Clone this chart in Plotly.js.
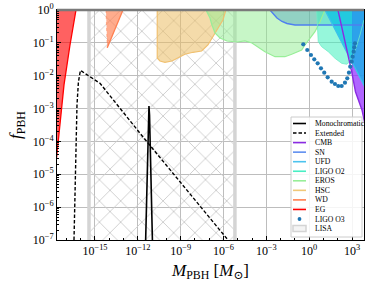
<!DOCTYPE html>
<html><head><meta charset="utf-8">
<script src="https://cdn.plot.ly/plotly-3.0.1.min.js"></script>
<style>html,body{margin:0;padding:0;background:#fff}#chart{width:374px;height:287px}</style>
</head><body><div id="chart"></div>
<script>
// values are log10 exponents (M in solar masses, f dimensionless)
const xTickExp = [-15, -12, -9, -6, -3, 0, 3];
const yTickExp = [0, -1, -2, -3, -4, -5, -6, -7];

const monoLogM = [-11.46, -11.39, -11.34, -11.29, -11.25, -11.22, -11.18, -11.13, -11.08, -11.03, -10.97];
const monoLogF = [-7.15, -6.09, -5.02, -3.96, -3.2, -2.92, -3.2, -3.96, -5.02, -6.09, -7.15];

const extLogM = [-16.47, -16.40, -16.34, -16.26, -16.16, -16.02, -15.91, -15.63, -15.35, -15.0, -14.65, -11.85, -8.35, -5.67, -5.4];
const extLogF = [-7.0, -5.48, -3.96, -2.89, -2.19, -1.84, -1.87, -1.95, -2.03, -2.13, -2.23, -3.75, -5.58, -7.0, -7.15];

const egLogM = [-16.33, -16.75, -17.17, -17.45, -17.63, -17.75];
const egLogF = [0, -1.065, -2.28, -3.50, -4.41, -4.75];

const wdLogM = [-14.23, -14.14, -13.04];
const wdLogF = [0, -1.147, 0];

const hscLogM = [-10.64, -10.64, -10.45, -10.10, -9.61, -9.19, -8.70, -8.14, -7.53, -7.09, -6.74, -6.39, -6.04, -5.83];
const hscLogF = [0, -1.461, -1.552, -1.592, -1.552, -1.452, -1.348, -1.287, -1.248, -1.065, -0.822, -0.548, -0.304, 0];

const erosLogM = [-7.227, -6.947, -6.807, -6.597, -6.246, -5.756, -5.056, -4.496, -4.006, -3.796, -3.095, -2.395, -1.695, -1.225, -0.763, -0.525, -0.294, 0.056, 0.406, 0.756, 1.106];
const erosLogF = [0, -0.243, -0.456, -0.700, -0.852, -0.943, -0.974, -0.943, -1.004, -1.065, -1.269, -1.421, -1.421, -1.348, -1.269, -1.217, -1.065, -0.861, -0.660, -0.365, 0];

const snLogM = [-2.745, -2.535, -2.255, -1.905, -1.555, -0.994, 3.9];
const snLogF = [0, -0.091, -0.243, -0.35, -0.411, -0.456, -0.456];

const o2LogM = [0.525, 0.637, 0.875, 1.338, 1.807, 2.276, 2.626, 2.857, 3.067, 3.277, 3.557, 3.837];
const o2LogF = [0, -0.965, -1.117, -1.269, -1.470, -1.622, -1.652, -1.573, -1.40, -1.156, -0.761, -0.304];

const ufdLogM = [1.106, 3.908, 4.3];
const ufdLogF = [0, -2.343, -2.68];

const cmbLogM = [2.017, 2.507, 2.976, 3.243, 3.699, 3.874];
const cmbLogF = [0, -0.913, -1.878, -2.487, -3.043, -3.408];
// CMB shaded part (from 10^3 Msun up)
const cmbFillLogM = [3.0, 3.0, 3.243, 3.699, 3.874, 4.3, 4.3];
const cmbFillLogF = [0, -1.93, -2.487, -3.043, -3.408, -3.6, 0];

const o3LogM = [-0.413, -0.133, 0.126, 0.357, 0.595, 0.826, 1.057, 1.296, 1.576, 1.807, 2.038, 2.276, 2.507, 2.668, 2.787, 2.878, 2.976, 3.046, 3.116, 3.158, 3.207];
const o3LogF = [-1.044, -1.217, -1.369, -1.500, -1.622, -1.774, -1.908, -2.048, -2.182, -2.252, -2.313, -2.313, -2.212, -2.079, -1.908, -1.726, -1.573, -1.421, -1.269, -1.135, -1.013];

const lisaLogM = [-15.42, -5.2];

const legendLabels = ['Monochromatic', 'Extended', 'CMB', 'SN', 'UFD', 'LIGO O2', 'EROS', 'HSC', 'WD', 'EG', 'LIGO O3', 'LISA'];
const legendColors = ['#000000', '#000000', '#8a2be2', '#5f8ff0', '#4cc3ee', '#48eec4', '#98ee98', '#f0c878', '#ff7f50', '#ff0000', '#1f77b4', '#d4d4d4'];

const P = a => a.map(v => Math.pow(10, v));
const poly = (mx, fy, cx, cy) => ({x: P(mx.concat(cx)), y: P(fy.concat(cy))});

const traces = [];
// LISA hatched band
traces.push({x: P([lisaLogM[0], lisaLogM[1], lisaLogM[1], lisaLogM[0], lisaLogM[0]]), y: P([-8, -8, 1, 1, -8]),
  mode: 'lines', fill: 'toself', line: {width: 0.01, color: 'rgba(0,0,0,0)'}, fillcolor: 'rgba(255,255,255,0)',
  fillpattern: {shape: 'x', size: 15, solidity: 0.12, fgcolor: '#cdcdcd', fgopacity: 1},
  hoverinfo: 'skip', showlegend: false});
traces.push({x: [P([lisaLogM[0]])[0], P([lisaLogM[0]])[0], null, P([lisaLogM[1]])[0], P([lisaLogM[1]])[0]],
  y: [1e-8, 10, null, 1e-8, 10], mode: 'lines', line: {color: '#d4d4d4', width: 3.5}, hoverinfo: 'skip', showlegend: false});

function fillTrace(p, color) {
  return {x: p.x, y: p.y, mode: 'lines', fill: 'toself', fillcolor: color, line: {width: 0}, hoverinfo: 'skip', showlegend: false};
}
traces.push(fillTrace(poly(egLogM, egLogF, [-18, -18], [-4.75, 0]), 'rgba(255,0,0,0.62)'));
traces.push(fillTrace(poly(wdLogM, wdLogF, [], []), 'rgba(255,127,80,0.65)'));
traces.push(fillTrace(poly(hscLogM, hscLogF, [], []), 'rgba(235,190,100,0.55)'));
traces.push(fillTrace(poly(erosLogM, erosLogF, [], []), 'rgba(144,238,144,0.5)'));
traces.push(fillTrace(poly(snLogM, snLogF, [3.9], [0]), 'rgba(60,150,190,0.38)'));
traces.push(fillTrace(poly(o2LogM, o2LogF, [3.9], [0]), 'rgba(64,240,190,0.55)'));
traces.push(fillTrace(poly(cmbFillLogM, cmbFillLogF, [], []), 'rgba(150,50,255,0.75)'));
traces.push(fillTrace(poly(ufdLogM, ufdLogF, [4.3], [0]), 'rgba(0,190,230,0.7)'));

function lineTrace(mx, fy, color, width, dash) {
  return {x: P(mx), y: P(fy), mode: 'lines', line: {color: color, width: width, dash: dash || 'solid'}, hoverinfo: 'skip', showlegend: false};
}
traces.push(lineTrace(egLogM, egLogF, '#ff0000', 1.3));
traces.push(lineTrace(wdLogM.slice(1), wdLogF.slice(1), '#ff7f50', 1.3));
traces.push(lineTrace(wdLogM.slice(0, 2), wdLogF.slice(0, 2), 'rgba(255,127,80,0.5)', 1, 'dot'));
traces.push(lineTrace(hscLogM, hscLogF, '#f0c070', 1.2));
traces.push(lineTrace(erosLogM, erosLogF, '#98ee98', 1.2));
traces.push(lineTrace(snLogM, snLogF, '#4f7ff0', 1.4));
traces.push(lineTrace(o2LogM, o2LogF, '#70ecc8', 0.8));
traces.push(lineTrace(ufdLogM, ufdLogF, '#3cc0ec', 1.3));
traces.push(lineTrace(cmbLogM, cmbLogF, '#8a2be2', 1.4));
traces.push(lineTrace(extLogM, extLogF, '#000000', 1.4, '3.5px,2px'));
traces.push(lineTrace(monoLogM, monoLogF, '#000000', 1.6));
traces.push({x: P(o3LogM), y: P(o3LogF), mode: 'markers', marker: {color: '#1f77b4', size: 4.2}, hoverinfo: 'skip', showlegend: false});

// manual legend (box, handles, labels), positions in paper units
const L = 57, T = 10, W = 307, H = 230;
const px = v => (v - L) / W, py = v => (T + H - v) / H;
const shapes = [
  {type: 'line', xref: 'paper', yref: 'paper', x0: 0, x1: 1, y0: 1, y1: 1, line: {color: '#7a7a7a', width: 2.5}},
  {type: 'rect', xref: 'paper', yref: 'paper', x0: px(291), x1: px(362), y0: py(237), y1: py(117), fillcolor: 'rgba(255,255,255,0.85)', line: {color: '#cccccc', width: 1}}
];
const annotations = [];
legendLabels.forEach((lab, i) => {
  const yy = 123.5 + 9.55 * i;
  if (lab === 'LIGO O3') {
    shapes.push({type: 'circle', xref: 'paper', yref: 'paper', x0: px(297.6), x1: px(301.4), y0: py(yy + 1.9), y1: py(yy - 1.9), fillcolor: legendColors[i], line: {width: 0}});
  } else if (lab === 'LISA') {
    shapes.push({type: 'rect', xref: 'paper', yref: 'paper', x0: px(293), x1: px(306), y0: py(yy + 3), y1: py(yy - 3), fillcolor: '#f4f4f4', line: {color: legendColors[i], width: 1.5}});
  } else {
    shapes.push({type: 'line', xref: 'paper', yref: 'paper', x0: px(293), x1: px(306), y0: py(yy), y1: py(yy),
      line: {color: legendColors[i], width: 1.6, dash: lab === 'Extended' ? '3.5px,2px' : 'solid'}});
  }
  annotations.push({xref: 'paper', yref: 'paper', x: px(312.5), y: py(yy), xanchor: 'left', yanchor: 'middle',
    text: lab, showarrow: false, font: {family: 'Liberation Serif, serif', size: 7.7, color: '#000'}});
});

const font = {family: 'Liberation Serif, DejaVu Serif, serif', color: '#000'};
const layout = {
  width: 374, height: 287,
  margin: {l: 57, r: 10, t: 10, b: 47},
  paper_bgcolor: '#fff', plot_bgcolor: '#fff',
  showlegend: false,
  font: font,
  xaxis: {type: 'log', range: [-17.66, 3.84], tickmode: 'array', tickvals: P(xTickExp),
    ticktext: xTickExp.map(e => '10<sup>' + (e < 0 ? '\u2212' + (-e) : e) + '</sup>'),
    ticks: 'inside', ticklen: 4, tickcolor: '#000', showgrid: true, gridcolor: '#bdbdbd', gridwidth: 1,
    showline: true, linecolor: '#000', linewidth: 1, mirror: true, zeroline: false,
    minor: {ticks: 'inside', ticklen: 2, tickcolor: '#000', dtick: 1, showgrid: false},
    tickfont: {family: font.family, size: 12, color: '#000'},
    title: {text: '<i>M</i><sub>PBH</sub> [<i>M</i><sub>\u2299</sub>]', font: {family: font.family, size: 17, color: '#000'}, standoff: 6},
    automargin: false},
  yaxis: {type: 'log', range: [-7, 0], tickmode: 'array', tickvals: P(yTickExp),
    ticktext: yTickExp.map(e => '10<sup>' + (e < 0 ? '\u2212' + (-e) : e) + '</sup>'),
    ticks: 'inside', ticklen: 4, tickcolor: '#000', showgrid: true, gridcolor: '#bdbdbd', gridwidth: 1,
    showline: true, linecolor: '#000', linewidth: 1, mirror: true, zeroline: false,
    minor: {ticks: 'inside', ticklen: 2, tickcolor: '#000', dtick: 'D1', showgrid: false},
    tickfont: {family: font.family, size: 12, color: '#000'},
    title: {text: '<i>f</i><sub>PBH</sub>', font: {family: font.family, size: 17, color: '#000'}, standoff: 6},
    automargin: false},
  shapes: shapes,
  annotations: annotations
};
Plotly.newPlot('chart', traces, layout, {displayModeBar: false, staticPlot: true});
</script></body></html>
